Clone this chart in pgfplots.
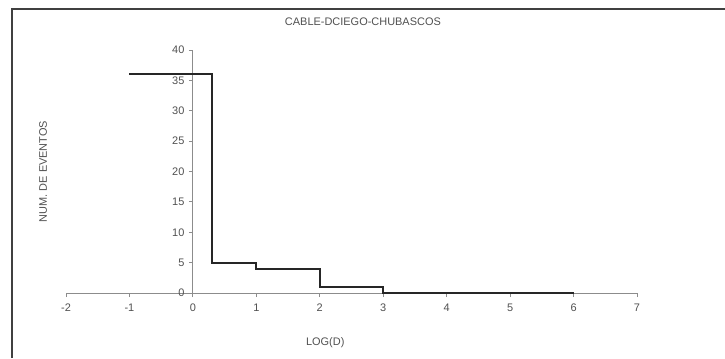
\documentclass[border=0pt]{standalone}
\usepackage{pgfplots}
\pgfplotsset{compat=1.18}
\usepackage{fontspec}
\setmainfont{Liberation Sans}
\definecolor{axgray}{HTML}{8C8C8C}
\definecolor{txtgray}{HTML}{505050}
\begin{document}
\begin{tikzpicture}[x=1bp,y=1bp]
\path[use as bounding box] (0,0) rectangle (725,358);
\draw[line width=1.5bp,black!75] (12,0) -- (12,349) -- (725,349);
\begin{axis}[
  at={(66bp,65bp)}, anchor=south west,
  scale only axis, width=571bp, height=243bp,
  xmin=-2, xmax=7, ymin=0, ymax=40,
  axis lines=middle,
  axis line style={-, axgray, line width=0.9bp},
  xtick={-2,...,7}, ytick={0,5,...,40},
  hide obscured x ticks=false, hide obscured y ticks=false,
  tick align=outside, major tick length=4bp,
  tick style={axgray, line width=0.9bp},
  ticklabel style={font=\fontsize{11}{13}\selectfont, text=txtgray},
  /pgf/number format/assume math mode=true,
  xticklabel style={yshift=-3bp},
  yticklabel style={xshift=-1bp},
  title={CABLE-DCIEGO-CHUBASCOS},
  title style={at={(rel axis cs:0.52,1.09)}, anchor=center, font=\fontsize{11}{13}\selectfont, text=txtgray},
  xlabel={LOG(D)},
  xlabel style={at={(rel axis cs:0.454,-0.206)}, anchor=center, font=\fontsize{11}{13}\selectfont, text=txtgray},
  ylabel={NUM. DE EVENTOS},
  ylabel style={at={(rel axis cs:-0.04,0.5)}, anchor=center, rotate=90, font=\fontsize{11}{13}\selectfont, text=txtgray},
  clip=false,
]
\addplot[black!85, line width=1.9bp, line join=miter] coordinates {
  (-1,36) (0.301,36) (0.301,5) (1,5) (1,4) (2,4) (2,1) (3,1) (3,0) (6,0)
};
\end{axis}
\end{tikzpicture}
\end{document}
